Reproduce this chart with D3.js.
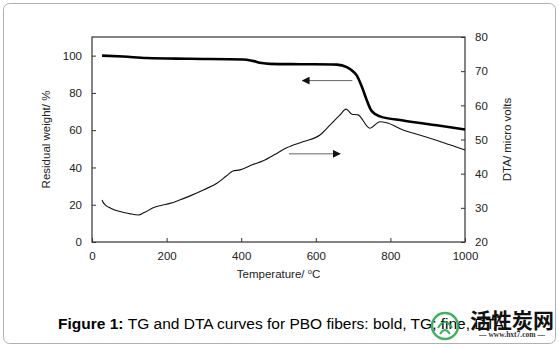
<!DOCTYPE html>
<html>
<head>
<meta charset="utf-8">
<script src="https://cdn.jsdelivr.net/npm/d3@7"></script>
<style>
  html, body { margin: 0; padding: 0; background: #fff; overflow: hidden; }
  svg { display: block; }
</style>
</head>
<body>
<div id="chart"></div>
<script>
// TG (residual weight, left axis) and DTA (right axis) against temperature
const tgTemp = [27, 84, 147, 260, 405, 430, 455, 477, 560, 657, 683, 700, 710, 724, 737, 750, 772, 834, 924, 1000];
const tgWeight = [100, 99.5, 98.7, 98.3, 97.9, 97.2, 96.0, 95.6, 95.4, 95.2, 93.8, 91.5, 89.3, 83, 75.9, 70.2, 67.4, 65.2, 62.6, 60.4];

const dtaTemp = [27, 30, 36, 50, 75, 100, 124, 140, 164, 185, 209, 235, 263, 300, 335, 360, 378, 397, 430, 459, 490, 522, 567, 611, 638, 665, 681, 697, 713, 745, 772, 790, 834, 860, 887, 941, 1000];
const dtaValue = [32.3, 31.6, 30.8, 29.9, 28.9, 28.3, 27.9, 28.6, 30.0, 30.7, 31.3, 32.3, 33.5, 35.3, 37.2, 39.3, 40.8, 41.1, 42.6, 43.8, 45.6, 47.6, 49.4, 51.3, 54.2, 57.2, 58.9, 57.4, 57.2, 53.3, 55.2, 54.9, 52.8, 51.9, 51.0, 49.1, 46.9];

const xTicks = [0, 200, 400, 600, 800, 1000];
const leftTicks = [0, 20, 40, 60, 80, 100];
const rightTicks = [20, 30, 40, 50, 60, 70, 80];

// arrows: [temp start, temp end, level]
const tgArrow = [698, 564, 86.6];
const dtaArrow = [528, 665, 45.8];

const font = "Liberation Sans";
const width = 559, height = 347;
const margin = {top: 37, right: 94, bottom: 105, left: 92};
const innerWidth = width - margin.left - margin.right,
  innerHeight = height - margin.top - margin.bottom;

const svg = d3.select("#chart").append("svg")
  .attr("width", width)
  .attr("height", height)
  .attr("font-family", font);

svg.append("rect")
  .attr("x", 3.5).attr("y", 3.5)
  .attr("width", 552).attr("height", 340)
  .attr("rx", 6)
  .attr("fill", "#fff")
  .attr("stroke", "#b0b0b0");

const defs = svg.append("defs");
defs.append("marker")
  .attr("id", "head")
  .attr("viewBox", "0 0 10 10")
  .attr("refX", 9).attr("refY", 5)
  .attr("markerWidth", 8).attr("markerHeight", 8)
  .attr("markerUnits", "userSpaceOnUse")
  .attr("orient", "auto")
  .append("path")
  .attr("d", "M0,0L10,5L0,10Z")
  .attr("fill", "#111");

const g = svg.append("g")
  .attr("transform", "translate(" + margin.left + "," + margin.top + ")");

const xScale = d3.scaleLinear().domain([0, 1000]).range([0, innerWidth]);
const yLeft = d3.scaleLinear().domain([0, 110]).range([innerHeight, 0]);
const yRight = d3.scaleLinear().domain([20, 80]).range([innerHeight, 0]);

g.append("rect")
  .attr("width", innerWidth).attr("height", innerHeight)
  .attr("fill", "none")
  .attr("stroke", "#333")
  .attr("stroke-width", 1.2);

function styleAxis(sel) {
  sel.attr("font-family", font).attr("font-size", 11.5);
  sel.select(".domain").remove();
  sel.selectAll("line").attr("stroke", "#333");
  sel.selectAll("text").attr("fill", "#222");
}

g.append("g")
  .attr("transform", "translate(0," + innerHeight + ")")
  .call(d3.axisBottom(xScale).tickValues(xTicks).tickFormat(d3.format("d"))
    .tickSizeInner(-4).tickSizeOuter(0).tickPadding(10))
  .call(styleAxis);

g.append("g")
  .call(d3.axisLeft(yLeft).tickValues(leftTicks).tickSizeInner(-4).tickSizeOuter(0).tickPadding(10))
  .call(styleAxis);

g.append("g")
  .attr("transform", "translate(" + innerWidth + ",0)")
  .call(d3.axisRight(yRight).tickValues(rightTicks).tickSizeInner(-4).tickSizeOuter(0).tickPadding(10))
  .call(styleAxis);

const tgLine = d3.line()
  .x((d, i) => xScale(tgTemp[i]))
  .y(d => yLeft(d))
  .curve(d3.curveMonotoneX);

const dtaLine = d3.line()
  .x((d, i) => xScale(dtaTemp[i]))
  .y(d => yRight(d))
  .curve(d3.curveMonotoneX);

g.append("path")
  .datum(dtaValue)
  .attr("d", dtaLine)
  .attr("fill", "none")
  .attr("stroke", "#111")
  .attr("stroke-width", 1.1);

g.append("path")
  .datum(tgWeight)
  .attr("d", tgLine)
  .attr("fill", "none")
  .attr("stroke", "#000")
  .attr("stroke-width", 2.6);

g.append("line")
  .attr("x1", xScale(tgArrow[0])).attr("x2", xScale(tgArrow[1]))
  .attr("y1", yLeft(tgArrow[2])).attr("y2", yLeft(tgArrow[2]))
  .attr("stroke", "#666").attr("stroke-width", 1)
  .attr("marker-end", "url(#head)");

g.append("line")
  .attr("x1", xScale(dtaArrow[0])).attr("x2", xScale(dtaArrow[1]))
  .attr("y1", yRight(dtaArrow[2])).attr("y2", yRight(dtaArrow[2]))
  .attr("stroke", "#666").attr("stroke-width", 1)
  .attr("marker-end", "url(#head)");

// axis titles
svg.append("text")
  .attr("transform", "translate(50," + (margin.top + innerHeight / 2) + ") rotate(-90)")
  .attr("text-anchor", "middle")
  .attr("font-size", 11.5).attr("fill", "#222")
  .text("Residual weight/ %");

svg.append("text")
  .attr("transform", "translate(511," + (margin.top + innerHeight / 2) + ") rotate(-90)")
  .attr("text-anchor", "middle")
  .attr("font-size", 11.5).attr("fill", "#222")
  .text("DTA/ micro volts");

const xTitle = svg.append("text")
  .attr("x", margin.left + innerWidth / 2)
  .attr("y", 278)
  .attr("text-anchor", "middle")
  .attr("font-size", 11.5).attr("fill", "#222");
xTitle.append("tspan").text("Temperature/ ");
xTitle.append("tspan").attr("font-size", 7.5).attr("dy", -4).text("o");
xTitle.append("tspan").attr("dy", 4).text("C");

// caption
const caption = svg.append("text")
  .attr("x", 58).attr("y", 329)
  .attr("font-size", 15.5).attr("fill", "#000");
caption.append("tspan").attr("font-weight", "bold").text("Figure 1: ");
caption.append("tspan").text("TG and DTA curves for PBO fibers: bold, TG; fine, DTA.");

// site mark in the corner
const mark = svg.append("g").attr("transform", "translate(445,326)").attr("opacity", 0.9);
mark.append("circle")
  .attr("r", 13)
  .attr("fill", "none")
  .attr("stroke", "#2fa84f")
  .attr("stroke-width", 2.5);
mark.append("path")
  .attr("d", "M-7,2Q0,-10 7,2M-5,8Q0,0 5,8")
  .attr("fill", "none")
  .attr("stroke", "#2fa84f")
  .attr("stroke-width", 2);

svg.append("text")
  .attr("x", 470).attr("y", 328)
  .attr("font-family", "Noto Sans CJK SC")
  .attr("font-weight", "bold")
  .attr("font-size", 21)
  .attr("fill", "#111")
  .text("活性炭网");

svg.append("text")
  .attr("x", 512).attr("y", 337)
  .attr("text-anchor", "middle")
  .attr("font-family", "Liberation Serif")
  .attr("font-weight", "bold")
  .attr("font-size", 7.5)
  .attr("fill", "#333")
  .text("— www.hxt7.com —");
</script>
</body>
</html>
